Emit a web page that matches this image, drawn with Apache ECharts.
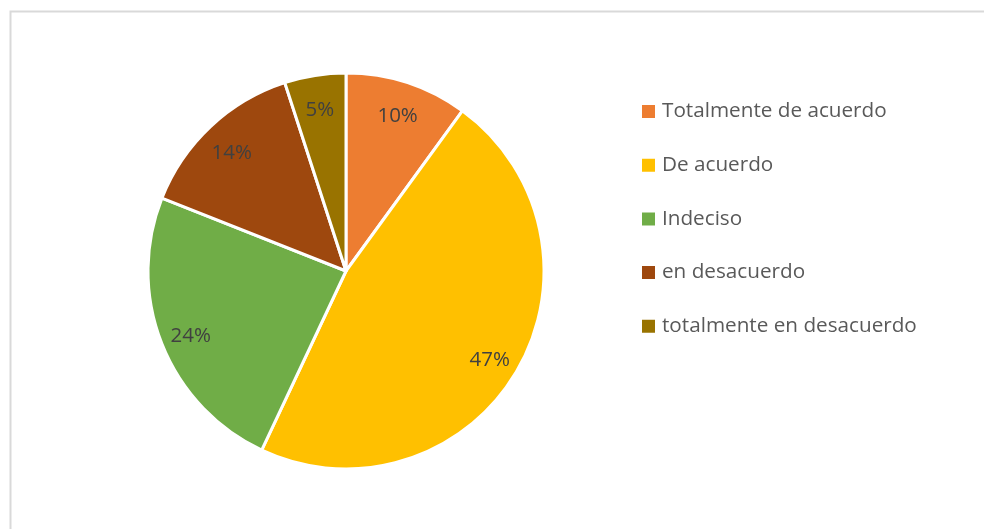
<!DOCTYPE html>
<html>
<head>
<meta charset="utf-8">
<script src="https://cdn.jsdelivr.net/npm/echarts@6/dist/echarts.min.js"></script>
<style>
    html, body { margin: 0; padding: 0; background: #fff; }
    #chart { width: 984px; height: 529px; }
</style>
</head>
<body>
<div id="chart"></div>
<script>
    // categorias y valores (%)
    const categories = ["Totalmente de acuerdo", "De acuerdo", "Indeciso", "en desacuerdo", "totalmente en desacuerdo"];
    const values = [10, 47, 24, 14, 5];
    const colors = ["#ED7D31", "#FFC000", "#70AD47", "#9E480E", "#997300"];

    const font = "'Open Sans', 'Noto Sans', sans-serif";
    const pieData = categories.map((name, i) => ({ name: name, value: values[i] }));

    const chart = echarts.init(document.getElementById("chart"));

    const option = {
        animation: false,
        color: colors,
        graphic: [{
            type: "rect",
            shape: { x: 10.5, y: 11.5, width: 1000, height: 600 },
            style: { fill: "none", stroke: "#D9D9D9", lineWidth: 2 },
            silent: true
        }],
        legend: {
            orient: "vertical",
            left: 640,
            top: 101,
            padding: 0,
            itemWidth: 15,
            itemHeight: 15,
            itemGap: 32.7,
            icon: "rect",
            textStyle: { fontFamily: font, fontSize: 20.7, lineHeight: 20, color: "#595959", padding: [0, 0, 0, 1] },
            data: categories
        },
        series: [
            {
                name: "respuestas",
                type: "pie",
                center: [346, 271],
                radius: [0, 198],
                startAngle: 90,
                clockwise: true,
                itemStyle: { borderColor: "#fff", borderWidth: 3 },
                label: { show: false },
                labelLine: { show: false },
                emphasis: { disabled: true },
                data: pieData
            },
            {
                // anillo transparente solo para colocar las etiquetas cerca del borde
                name: "etiquetas",
                type: "pie",
                center: [346, 271],
                radius: [130, 198],
                startAngle: 90,
                clockwise: true,
                silent: true,
                itemStyle: { color: "rgba(0,0,0,0)", borderWidth: 0 },
                label: {
                    show: true,
                    position: "inside",
                    formatter: "{c}%",
                    fontFamily: font,
                    fontSize: 20.5,
                    color: "#404040",
                    offset: [0, 4]
                },
                labelLine: { show: false },
                emphasis: { disabled: true },
                data: pieData
            }
        ]
    };

    chart.setOption(option);
</script>
</body>
</html>
